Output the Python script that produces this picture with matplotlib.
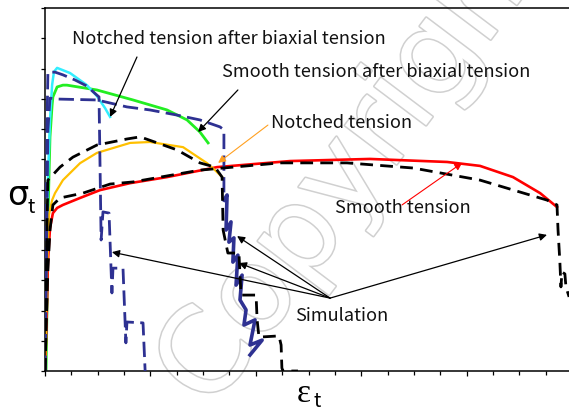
import matplotlib
matplotlib.use("Agg")
import matplotlib.pyplot as plt
import matplotlib.patheffects as pe
from matplotlib.ticker import MultipleLocator

# ---- curves (true strain vs true stress, arbitrary units) ----
# smooth tension, experiment
smooth_exp_x = [0, 0.04, 0.08, 0.11, 0.19, 0.30, 0.46, 0.68, 1.33, 2.09, 3.23, 4.63, 6.53, 9.30,
                12.33, 15.26, 16.51, 17.76, 18.79, 19.43]
smooth_exp_y = [0, 1.02, 2.35, 3.60, 4.73, 5.22, 5.39, 5.49, 5.72, 5.98, 6.21, 6.41, 6.74, 6.94,
                7.01, 6.91, 6.78, 6.41, 5.88, 5.42]
# smooth tension, simulation
smooth_sim_x = [0, 0.04, 0.11, 0.19, 0.30, 0.57, 1.44, 2.47, 3.34, 5.88, 8.92, 11.46, 13.97, 16.51,
                19.05, 19.43, 19.47, 19.54, 19.58, 19.62, 19.73, 19.77, 19.89]
smooth_sim_y = [0, 1.36, 3.34, 4.66, 5.49, 5.72, 5.88, 6.18, 6.25, 6.64, 6.88, 6.88, 6.71, 6.31,
                5.65, 5.49, 4.66, 3.60, 2.78, 3.27, 3.21, 2.78, 2.45]
# notched tension, experiment
notched_exp_x = [0, 0.04, 0.08, 0.15, 0.27, 0.38, 0.68, 1.33, 1.97, 3.23, 3.98, 5.24, 6.15, 6.45, 6.76]
notched_exp_y = [0, 1.69, 3.34, 5.16, 5.65, 5.88, 6.31, 6.87, 7.21, 7.54, 7.57, 7.40, 6.87, 6.64, 6.38]
# notched tension, simulation
notched_sim_x = [0, 0.04, 0.08, 0.11, 0.57, 1.06, 1.97, 3.11, 3.61, 5.01, 5.88, 6.45, 6.72, 6.76,
                 6.94, 7.36, 7.40, 7.44, 8.01, 8.05, 8.12, 8.88, 8.96, 8.99, 9.03, 9.60]
notched_sim_y = [0, 2.35, 4.99, 6.31, 6.74, 7.07, 7.47, 7.67, 7.74, 7.31, 6.88, 6.74, 6.41, 4.66,
                 3.90, 3.90, 3.17, 2.51, 2.51, 1.69, 1.12, 1.16, 0.86, 0.10, 0, 0]
# notched tension after biaxial tension, experiment
notched_bi_exp_x = [0, 0.04, 0.08, 0.11, 0.19, 0.27, 0.34, 0.46, 0.95, 1.59, 1.97, 2.28, 2.47]
notched_bi_exp_y = [0, 1.36, 3.97, 6.31, 8.30, 9.46, 9.89, 10.02, 9.85, 9.45, 9.09, 8.69, 8.40]
# notched tension after biaxial tension, simulation
notched_bi_sim_x = [0, 0.04, 0.08, 0.11, 0.38, 0.68, 1.14, 1.59, 1.97, 2.05, 2.13, 2.20, 2.43,
                    2.54, 2.58, 2.96, 3.07, 3.11, 3.72, 3.80]
notched_bi_sim_y = [0, 4.00, 8.30, 9.88, 9.88, 9.79, 9.62, 9.42, 9.12, 9.06, 4.33, 5.26, 5.22,
                    2.58, 3.40, 3.40, 0.93, 1.62, 1.59, 0]
# smooth tension after biaxial tension, experiment
smooth_bi_exp_x = [0.04, 0.08, 0.11, 0.19, 0.27, 0.30, 0.46, 0.68, 0.83, 1.97, 3.34, 4.63, 5.39, 5.88, 6.19]
smooth_bi_exp_y = [0, 2.35, 4.99, 7.74, 8.79, 9.06, 9.39, 9.45, 9.45, 9.29, 8.96, 8.63, 8.30, 7.90, 7.54]
# smooth tension after biaxial tension, simulation
smooth_bi_sim_x = [0, 0.04, 0.08, 0.11, 0.19, 0.46, 1.97, 3.11, 3.98, 5.01, 5.88, 6.64, 6.79, 6.79,
                   6.91, 6.87, 7.06, 6.98, 7.17, 7.13, 7.32, 7.25, 7.48, 7.40, 7.63, 7.55, 7.97,
                   7.78, 8.24, 7.78]
smooth_bi_sim_y = [0, 2.35, 5.65, 7.97, 9.02, 8.99, 8.96, 8.73, 8.63, 8.46, 8.30, 8.07, 7.97, 5.65,
                   5.82, 4.66, 4.93, 4.26, 4.40, 3.60, 3.83, 2.84, 3.17, 2.35, 2.02, 1.52, 1.69,
                   0.86, 1.02, 0.53]
# index where the softening (noisy) part of that simulation begins
smooth_bi_sim_noisy_from = 13

W, H = 569, 412
fig = plt.figure(figsize=(W / 100, H / 100), dpi=100, facecolor="white")
ax = fig.add_axes([45 / W, 41 / H, 524 / W, 363 / H])
ax.set_facecolor("none")
ax.set_xlim(0, 19.886)
ax.set_ylim(0, 12)

navy = "#2E3192"
blue_dash = (0, (5.5, 2.3))
black_dash = (0, (4.6, 2.6))

ax.plot(smooth_bi_exp_x, smooth_bi_exp_y, color="#22EE22", lw=2.0, zorder=2)
ax.plot(notched_bi_exp_x, notched_bi_exp_y, color="#33EEFF", lw=1.8, zorder=2)
ax.plot(smooth_exp_x, smooth_exp_y, color="#FF0000", lw=1.9, zorder=2)
ax.plot(notched_exp_x, notched_exp_y, color="#FFC000", lw=1.6, zorder=2)
ax.plot(notched_bi_sim_x, notched_bi_sim_y, color=navy, lw=2.0, ls=blue_dash, zorder=3)
k = smooth_bi_sim_noisy_from
ax.plot(smooth_bi_sim_x[:k + 1], smooth_bi_sim_y[:k + 1], color=navy, lw=2.0, ls=blue_dash, zorder=3)
ax.plot(smooth_bi_sim_x[k:], smooth_bi_sim_y[k:], color=navy, lw=2.6, zorder=3)
ax.plot(smooth_sim_x, smooth_sim_y, color="black", lw=2.0, ls=black_dash, zorder=4)
ax.plot(notched_sim_x, notched_sim_y, color="black", lw=2.0, ls=black_dash, zorder=4)

# axes styling
for side in ("left", "bottom", "top"):
    ax.spines[side].set_linewidth(1.1)
ax.spines["right"].set_visible(False)
ax.yaxis.set_major_locator(MultipleLocator(1))
ax.xaxis.set_major_locator(MultipleLocator(4))
ax.xaxis.set_minor_locator(MultipleLocator(1))
ax.tick_params(axis="y", which="major", direction="out", length=3.2, width=0.9, labelleft=False)
ax.tick_params(axis="x", which="major", direction="out", length=3.8, width=0.9, labelbottom=False)
ax.tick_params(axis="x", which="minor", direction="out", length=2.6, width=0.9)

# annotations
lab_font = dict(family=["Noto Sans CJK KR", "DejaVu Sans"], fontsize=13.1, weight="light",
                color="#111111")
ax.text(1.02, 10.81, "Notched tension after biaxial tension", ha="left", va="baseline", zorder=6, **lab_font)
ax.text(6.72, 9.72, "Smooth tension after biaxial tension", ha="left", va="baseline", zorder=6, **lab_font)
ax.text(8.58, 8.03, "Notched tension", ha="left", va="baseline", zorder=6, **lab_font)
ax.text(11.01, 5.22, "Smooth tension", ha="left", va="baseline", zorder=6, **lab_font)
ax.text(9.49, 1.65, "Simulation", ha="left", va="baseline", zorder=6, **lab_font)


def arrow(start, end, color="black", lw=0.9):
    ax.annotate("", xy=end, xytext=start,
                arrowprops=dict(arrowstyle="-|>", color=color, lw=lw, mutation_scale=11,
                                shrinkA=0, shrinkB=0), zorder=7)


arrow((3.49, 10.38), (2.47, 8.40))
arrow((7.32, 9.29), (5.81, 7.90))
arrow((8.46, 8.13), (6.57, 6.88), color="#FFA020", lw=0.8)
arrow((13.55, 5.49), (15.83, 6.88), color="#FF0000", lw=0.8)
sim_origin = (10.82, 2.41)
for tip in [(2.54, 3.93), (7.29, 4.46), (7.36, 3.57), (19.05, 4.50)]:
    arrow(sim_origin, tip)

# axis symbols
fig.text(7 / W, 1 - 205 / H, "σ", fontsize=24, family="DejaVu Sans", ha="left", va="baseline")
fig.text(27 / W, 1 - 213 / H, "t", fontsize=14, family="Noto Sans CJK KR", ha="left", va="baseline")
fig.text(297 / W, 1 - 402 / H, "ε", fontsize=24, family="Liberation Serif", ha="left", va="baseline")
fig.text(313 / W, 1 - 407 / H, "t", fontsize=14, family="Noto Sans CJK KR", ha="left", va="baseline")

# outlined watermark behind the plot
fig.text(0.369, 0.0, "Copyright", rotation=53, rotation_mode="anchor", ha="left", va="baseline",
         fontsize=85, family="DejaVu Sans", color="white", zorder=-1,
         path_effects=[pe.withStroke(linewidth=2.2, foreground="#d0d0d0")])

fig.savefig("out.png", dpi=100, facecolor="white")
